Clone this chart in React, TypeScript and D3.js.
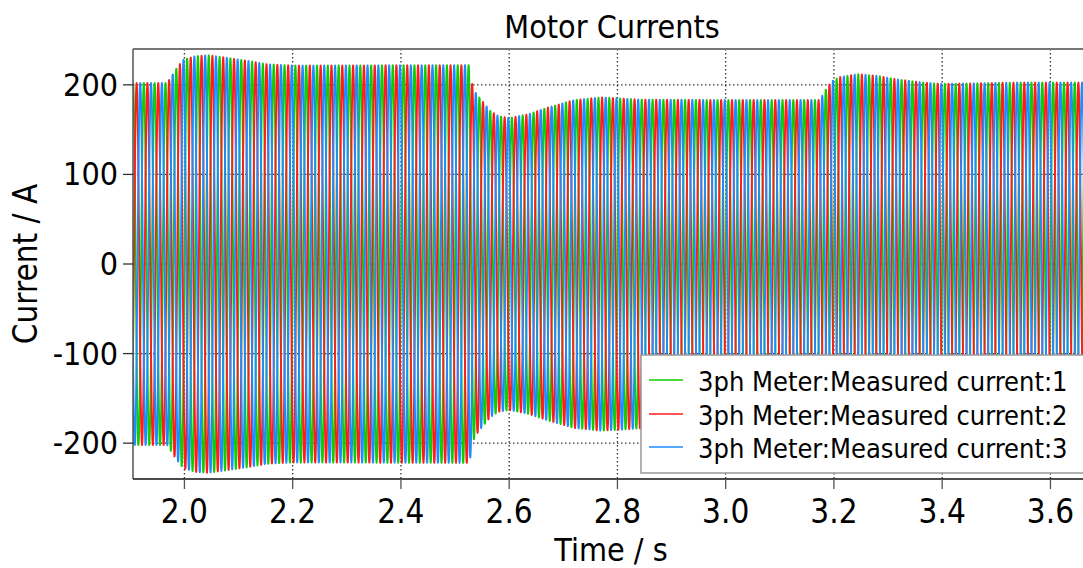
import React from "react";
import * as d3 from "d3";

// Envelope of the peak current (A), at times (s)
const envelopeTimes = [1.9, 1.968, 1.985, 1.998, 2.02, 2.044, 2.08, 2.115, 2.152, 2.2, 2.527, 2.531, 2.537, 2.55, 2.565, 2.58, 2.6, 2.634, 2.671, 2.72, 2.77, 2.8, 2.84, 3.0, 3.174, 3.183, 3.196, 3.21, 3.244, 3.28, 3.318, 3.36, 3.397, 3.53, 3.67];
const envelopeAmps = [202, 202, 218, 228, 232, 233, 230, 227, 223, 221.5, 222, 202, 192, 182, 171, 165, 163, 167, 174.5, 183, 186, 185, 183.5, 183, 183, 193, 204, 208.5, 212, 210, 206, 203, 201, 202.5, 202.5];
const supplyFrequency = 50; // Hz
const phaseShiftsDeg = [0, -120, 120];
const seriesNames = ["3ph Meter:Measured current:1", "3ph Meter:Measured current:2", "3ph Meter:Measured current:3"];
const seriesColors = ["#10cc00", "#ff1c1c", "#1e8cff"];
const xTicks = [2.0, 2.2, 2.4, 2.6, 2.8, 3.0, 3.2, 3.4, 3.6];
const yTicks = [-200, -100, 0, 100, 200];
const timeDomain = [1.905, 3.662];
const currentDomain = [-240, 240];

const W = 1083, H = 568;
const L = 133, R = 1084, T = 49, B = 479;
const FONT = "'DejaVu Sans Condensed', 'DejaVu Sans', sans-serif";

export default function App() {
  const x = d3.scaleLinear().domain(timeDomain).range([L, R]);
  const y = d3.scaleLinear().domain(currentDomain).range([B, T]);
  const env = d3.scaleLinear().domain(envelopeTimes).range(envelopeAmps).clamp(true);

  const dt = 0.0001;
  const times = d3.range(timeDomain[0] - 0.002, timeDomain[1] + 0.002, dt);
  const line = d3.line<[number, number]>().x(d => x(d[0])).y(d => y(d[1]));
  const paths = phaseShiftsDeg.map(ph => {
    const pts: [number, number][] = times.map(t => [t, env(t) * Math.sin(2 * Math.PI * supplyFrequency * t + (ph * Math.PI) / 180)]);
    return line(pts) || "";
  });

  const legendItemsY = [380, 414, 447];

  return (
    <svg width={W} height={H} style={{ position: "absolute", left: 0, top: 0, background: "#fff" }} fontFamily={FONT} fontStretch="condensed">
      <defs>
        <clipPath id="plotclip">
          <rect x={L} y={T} width={R - L} height={B - T} />
        </clipPath>
      </defs>
      <rect x={0} y={0} width={W} height={H} fill="#fff" />
      {/* grid */}
      <g stroke="#333" strokeWidth={1.3} strokeDasharray="1.5,2.5">
        {xTicks.map(t => (
          <line key={"gx" + t} x1={x(t)} x2={x(t)} y1={T} y2={B} />
        ))}
        {yTicks.map(v => (
          <line key={"gy" + v} x1={L} x2={R} y1={y(v)} y2={y(v)} />
        ))}
      </g>
      {/* waveforms */}
      <g clipPath="url(#plotclip)" fill="none" strokeWidth={1.9} strokeLinejoin="round">
        {paths.map((d, i) => (
          <path key={i} d={d} stroke={seriesColors[i]} />
        ))}
      </g>
      {/* frame */}
      <line x1={L} x2={W} y1={T} y2={T} stroke="#777" strokeWidth={2} />
      <line x1={L} x2={L} y1={T} y2={B} stroke="#555" strokeWidth={1.5} />
      <line x1={L} x2={W} y1={B} y2={B} stroke="#111" strokeWidth={1.5} />
      {/* y ticks */}
      {yTicks.map(v => (
        <g key={"yt" + v}>
          <line x1={L - 10} x2={L} y1={y(v)} y2={y(v)} stroke="#333" strokeWidth={1.3} />
          <text x={L - 15} y={y(v) + 11} textAnchor="end" fontSize={32} fill="#000">{v}</text>
        </g>
      ))}
      {/* x ticks */}
      {xTicks.map(t => (
        <g key={"xt" + t}>
          <line x1={x(t)} x2={x(t)} y1={B} y2={B + 10} stroke="#555" strokeWidth={1.3} />
          <text x={x(t)} y={523} textAnchor="middle" fontSize={33} fill="#000">{t.toFixed(1)}</text>
        </g>
      ))}
      {/* titles */}
      <text x={612} y={38} textAnchor="middle" fontSize={32} fill="#000">Motor Currents</text>
      <text x={611} y={561} textAnchor="middle" fontSize={32} fill="#000">Time / s</text>
      <text transform={`translate(37,264) rotate(-90)`} textAnchor="middle" fontSize={33} fill="#000">Current / A</text>
      {/* legend */}
      <rect x={641} y={355} width={460} height={118} fill="#fff" stroke="#999" strokeWidth={1.5} />
      {seriesNames.map((n, i) => (
        <g key={n}>
          <line x1={649} x2={683} y1={legendItemsY[i]} y2={legendItemsY[i]} stroke={seriesColors[i]} strokeWidth={1.5} />
          <text x={698} y={legendItemsY[i] + 11} fontSize={27} fill="#000">{n}</text>
        </g>
      ))}
    </svg>
  );
}
